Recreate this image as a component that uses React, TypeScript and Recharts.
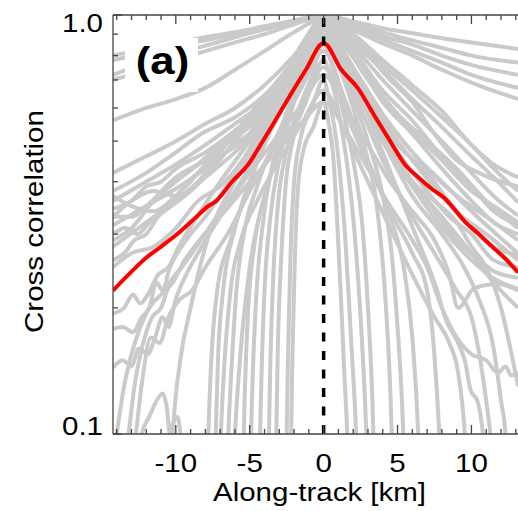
import React from 'react';
import { LineChart, Line, XAxis, YAxis, ReferenceLine, Label } from 'recharts';

type Pt = [number, number];

const FONT = "'Liberation Sans', Arial, Helvetica, sans-serif";

// axis ticks and labels
const xTicks = [-14, -13, -12, -11, -10, -9, -8, -7, -6, -5, -4, -3, -2, -1, 0, 1, 2, 3, 4, 5, 6, 7, 8, 9, 10, 11, 12, 13];
const xTickLabels = [-10, -5, 0, 5, 10];
const yTicks = [0.1, 0.2, 0.3, 0.4, 0.5, 0.6, 0.7, 0.8, 0.9, 1.0];
const yTickLabels: Record<string, string> = { '0.1': '0.1', '1': '1.0' };
const xDomain: [number, number] = [-14.25, 13.15];
const yDomain: [number, number] = [0.1, 1];

// mean cross-correlation (red)
const meanLine: Pt[] = [
  [-14.25, 0.22], [-13.2, 0.24], [-12.2, 0.26], [-11, 0.28], [-9.9, 0.3], [-8.8, 0.325], [-7.7, 0.352],
  [-7.35, 0.358], [-6.2, 0.4], [-5.0, 0.445], [-4.5, 0.475], [-3.4, 0.55], [-2.3, 0.64], [-1.2, 0.74],
  [0, 0.857], [1.2, 0.74], [2.3, 0.67], [3.5, 0.57], [4.5, 0.5], [5.5, 0.44], [6.4, 0.41], [7.3, 0.385],
  [8.2, 0.365], [9.6, 0.32], [10.5, 0.3], [11.4, 0.28], [12.3, 0.262], [13.15, 0.243],
];

// slowly decaying profiles
const flatLines: Pt[][] = [
  [[-14.25, 0.8], [-12, 0.83], [-10, 0.86], [-8, 0.885], [-6, 0.91], [-4, 0.94], [-2, 0.97], [0, 1.0], [2, 0.965], [4, 0.93], [6, 0.905], [8, 0.88], [10, 0.86], [13.15, 0.83]],
  [[-14.25, 0.78], [-12, 0.815], [-10, 0.845], [-8, 0.87], [-6, 0.9], [-4, 0.935], [-2, 0.965], [0, 1.0], [2, 0.95], [4, 0.91], [6, 0.87], [8, 0.835], [10, 0.8], [13.15, 0.77]],
  [[-14.25, 0.72], [-12, 0.77], [-10, 0.81], [-8, 0.845], [-6, 0.885], [-4, 0.925], [-2, 0.96], [0, 0.99], [2, 0.94], [4, 0.89], [6, 0.85], [8, 0.8], [10, 0.76], [13.15, 0.72]],
  [[-14.25, 0.7], [-12, 0.74], [-10, 0.78], [-8, 0.82], [-6, 0.86], [-4, 0.9], [-2, 0.95], [0, 0.99], [2, 0.93], [4, 0.875], [6, 0.82], [8, 0.77], [10, 0.72], [13.15, 0.67]],
  [[-14.25, 0.56], [-12, 0.6], [-10, 0.63], [-8, 0.67], [-6, 0.74], [-4, 0.82], [-2, 0.91], [0, 0.98], [2, 0.92], [4, 0.855], [6, 0.8], [8, 0.74], [10, 0.69], [13.15, 0.63]],
];

// intermediate profiles
const midLines: Pt[][] = [
  [[-14.25, 0.38], [-12, 0.42], [-10, 0.47], [-8.3, 0.52], [-6, 0.57], [-4.3, 0.63], [-2, 0.77], [-1, 0.88], [0, 0.99], [1, 0.95], [2, 0.9], [4, 0.78], [6, 0.68], [8, 0.59], [10, 0.49], [11.5, 0.44], [13.15, 0.41]],
  [[-14.25, 0.36], [-12, 0.4], [-10, 0.44], [-8, 0.49], [-6, 0.55], [-4, 0.62], [-2, 0.75], [-1, 0.86], [0, 0.98], [1, 0.93], [2, 0.88], [4, 0.76], [6, 0.66], [8, 0.57], [10, 0.49], [11.5, 0.43], [13.15, 0.38]],
  [[-14.25, 0.345], [-13, 0.36], [-12, 0.39], [-11, 0.4], [-10, 0.43], [-8, 0.47], [-6, 0.53], [-4, 0.6], [-2, 0.73], [-1, 0.85], [0, 0.98], [1, 0.92], [2, 0.86], [4, 0.74], [6, 0.63], [8, 0.54], [10, 0.46], [11.5, 0.41], [13.15, 0.357]],
  [[-14.25, 0.33], [-13, 0.33], [-12, 0.35], [-10, 0.41], [-8, 0.45], [-6, 0.51], [-4, 0.58], [-2, 0.71], [-1, 0.83], [0, 0.97], [1, 0.9], [2, 0.84], [4, 0.7], [6, 0.59], [8, 0.5], [10, 0.42], [11.5, 0.37], [13.15, 0.332]],
  [[-14.25, 0.315], [-12, 0.35], [-10, 0.385], [-8, 0.43], [-6, 0.49], [-4, 0.56], [-2, 0.69], [-1, 0.82], [0, 0.97], [1, 0.89], [2, 0.82], [4, 0.66], [6, 0.56], [8, 0.46], [10, 0.39], [11.5, 0.34], [13.15, 0.315]],
  [[-14.25, 0.28], [-12, 0.32], [-10, 0.36], [-8, 0.41], [-6, 0.47], [-4, 0.55], [-2, 0.68], [-1, 0.81], [0, 0.96], [1, 0.88], [2, 0.8], [4, 0.62], [6, 0.52], [8, 0.43], [10, 0.36], [11.5, 0.32], [13.15, 0.3]],
];

// crossing, irregular profiles
const crossLines: Pt[][] = [
  [[-14.25, 0.37], [-13, 0.35], [-11.5, 0.34], [-10, 0.37], [-8.5, 0.42], [-7, 0.46], [-5.5, 0.5], [-4, 0.58], [-2.5, 0.7], [-1, 0.85], [0, 0.95], [1.5, 0.8], [3, 0.65], [5, 0.52], [7, 0.43], [9, 0.37], [11, 0.33], [13.15, 0.29]],
  [[-14.25, 0.33], [-13, 0.36], [-11.5, 0.38], [-10, 0.37], [-8.5, 0.4], [-7, 0.47], [-5.5, 0.55], [-4, 0.64], [-2.5, 0.74], [-1, 0.87], [0, 0.97], [1.5, 0.84], [3, 0.7], [5, 0.58], [7, 0.5], [9, 0.43], [11, 0.36], [13.15, 0.31]],
  [[-14.25, 0.29], [-13, 0.31], [-11.5, 0.36], [-10, 0.4], [-8.5, 0.44], [-7, 0.49], [-5.5, 0.53], [-4, 0.6], [-2.5, 0.72], [-1, 0.86], [0, 0.96], [1.5, 0.78], [3, 0.62], [5, 0.49], [7, 0.42], [9, 0.34], [11, 0.3], [13.15, 0.26]],
  [[-14.25, 0.25], [-13, 0.27], [-11.5, 0.28], [-10, 0.31], [-8.5, 0.36], [-7, 0.39], [-5.5, 0.45], [-4, 0.55], [-2.5, 0.66], [-1, 0.8], [0, 0.94], [1.5, 0.76], [3, 0.6], [5, 0.47], [7, 0.38], [8.5, 0.33], [10, 0.3], [11.5, 0.26], [13.15, 0.25]],
  [[-14.25, 0.42], [-12, 0.46], [-10, 0.5], [-8, 0.55], [-6, 0.6], [-4, 0.68], [-2, 0.8], [0, 0.98], [1.5, 0.88], [3, 0.8], [4.5, 0.7], [6, 0.62], [7.5, 0.52], [9, 0.45], [10.5, 0.42], [12, 0.4], [13.15, 0.39]],
  [[-6.2, 0.07], [-6, 0.1], [-5.6, 0.16], [-5, 0.25], [-4, 0.37], [-2.5, 0.55], [-1, 0.77], [0, 0.92], [1.5, 0.75], [3, 0.6], [4.5, 0.48], [6, 0.4], [7.5, 0.36], [9, 0.32], [10, 0.28], [11, 0.25], [12, 0.2], [12.8, 0.15], [13.15, 0.13]],
];

// noisy, low-correlation profiles
const lowLines: Pt[][] = [
  [[-14.25, 0.26], [-13.5, 0.27], [-12.8, 0.29], [-12, 0.3], [-11.2, 0.33], [-10.3, 0.35], [-9, 0.38], [-7.5, 0.43], [-6, 0.5], [-4, 0.6], [-2, 0.75], [-1, 0.86], [0, 0.97], [1, 0.85], [2, 0.73], [4, 0.56], [6, 0.45], [8, 0.37], [10, 0.31], [11.5, 0.28], [13.15, 0.267]],
  [[-14.25, 0.194], [-13.5, 0.2], [-12.9, 0.215], [-12.4, 0.205], [-11.9, 0.215], [-11.2, 0.24], [-10.5, 0.25], [-9.8, 0.28], [-8.8, 0.32], [-7, 0.4], [-5, 0.5], [-3, 0.63], [-1.5, 0.78], [0, 0.96], [1, 0.82], [2, 0.69], [4, 0.5], [6, 0.39], [8, 0.31], [10, 0.26], [11.5, 0.235], [13.15, 0.222]],
  [[-14.25, 0.178], [-13.6, 0.18], [-12.9, 0.175], [-12.3, 0.19], [-11.8, 0.2], [-11.3, 0.23], [-10.9, 0.22], [-10.4, 0.25], [-9.9, 0.27], [-9, 0.3], [-8, 0.33], [-6, 0.42], [-4, 0.54], [-2, 0.72], [0, 0.96], [1.5, 0.75], [3, 0.58], [4.5, 0.47], [6, 0.4], [7.5, 0.34], [9, 0.29], [10.5, 0.26], [11.5, 0.245], [13.15, 0.236]],
  [[-14.25, 0.144], [-13.6, 0.15], [-13, 0.145], [-12.5, 0.16], [-11.9, 0.155], [-11.4, 0.17], [-10.9, 0.19], [-10.5, 0.18], [-10, 0.21], [-9.3, 0.24], [-8.5, 0.27], [-7, 0.33], [-5, 0.42], [-3, 0.52], [-1.5, 0.61], [0, 0.72], [1.5, 0.6], [3, 0.49], [4.5, 0.4], [6, 0.34], [7.5, 0.29], [8.5, 0.24], [9.1, 0.2], [10.2, 0.223], [11.8, 0.228], [13.15, 0.22]],
  [[-14.25, 0.3], [-13.4, 0.31], [-12.6, 0.3], [-11.8, 0.32], [-11, 0.34], [-10, 0.37], [-9, 0.4], [-8, 0.44], [-6, 0.52], [-4, 0.62], [-2, 0.77], [0, 0.97], [2, 0.8], [4, 0.64], [6, 0.53], [8, 0.45], [10, 0.38], [11.5, 0.35], [13.15, 0.32]],
  [[-14.4, 0.08], [-14, 0.1], [-13.5, 0.13], [-13, 0.155], [-12.4, 0.18], [-11.8, 0.2], [-11, 0.215], [-10.2, 0.23], [-9.4, 0.26], [-8.4, 0.29], [-7, 0.33], [-5, 0.4], [-3, 0.48], [-1.5, 0.55], [0, 0.62], [1.5, 0.53], [3, 0.43], [4.5, 0.35], [6, 0.29], [7, 0.25], [8, 0.2], [9, 0.17], [10, 0.155], [11, 0.15], [11.8, 0.14], [12.3, 0.145], [12.7, 0.138], [13.15, 0.14]],
  [[-13.6, 0.08], [-13.2, 0.1], [-12.8, 0.13], [-12.3, 0.16], [-11.6, 0.19], [-11, 0.2], [-10.4, 0.23], [-9.6, 0.25], [-8.6, 0.28], [-7.5, 0.32], [-6, 0.38], [-4, 0.5], [-2, 0.68], [0, 0.96], [2, 0.7], [4, 0.47], [6.2, 0.3], [7.75, 0.216], [8.2, 0.19], [9.1, 0.165], [9.55, 0.15], [9.95, 0.127], [10.4, 0.12], [10.9, 0.09], [11.1, 0.07]],
  [[-13, 0.08], [-12.7, 0.1], [-12.2, 0.14], [-11.7, 0.17], [-11.1, 0.165], [-10.5, 0.19], [-9.7, 0.21], [-8.9, 0.22], [-8, 0.25], [-6.5, 0.3], [-5, 0.38], [-3, 0.52], [-1.5, 0.7], [0, 0.95], [2, 0.66], [4, 0.45], [6, 0.33], [7.5, 0.27], [9, 0.22], [10, 0.19], [10.6, 0.15], [11, 0.12], [11.4, 0.09], [11.6, 0.07]],
];

// rapidly decorrelating profiles
const steepLines: Pt[][] = [
  [[-2.3, 0.07], [-2.2, 0.1], [-2.1, 0.16], [-1.95, 0.26], [-1.75, 0.38], [-1.4, 0.47], [-0.7, 0.54], [0, 0.62], [0.35, 0.55], [0.65, 0.46], [0.9, 0.33], [1.15, 0.22], [1.4, 0.14], [1.6, 0.1], [1.7, 0.08]],
  [[-2.6, 0.07], [-2.5, 0.1], [-2.4, 0.16], [-2.25, 0.26], [-2.0, 0.4], [-1.6, 0.5], [-0.8, 0.6], [0, 0.7], [0.4, 0.62], [0.8, 0.52], [1.1, 0.42], [1.5, 0.28], [1.85, 0.17], [2.2, 0.1], [2.3, 0.08]],
  [[-3.3, 0.07], [-3.2, 0.1], [-3.1, 0.16], [-2.9, 0.25], [-2.6, 0.38], [-2.1, 0.5], [-1.2, 0.62], [0, 0.78], [0.6, 0.68], [1.2, 0.54], [1.7, 0.41], [2.1, 0.3], [2.5, 0.19], [2.8, 0.12], [3.0, 0.08]],
  [[-3.8, 0.07], [-3.7, 0.1], [-3.6, 0.15], [-3.4, 0.24], [-3.1, 0.35], [-2.6, 0.46], [-1.8, 0.58], [-0.9, 0.7], [0, 0.85], [0.8, 0.7], [1.5, 0.55], [2.1, 0.43], [2.6, 0.32], [3.0, 0.2], [3.3, 0.12], [3.45, 0.08]],
  [[-14.25, 0.05], [-12.6, 0.08], [-12.3, 0.1], [-11.8, 0.11], [-11.3, 0.12], [-10.9, 0.125], [-10.6, 0.115], [-10.4, 0.1], [-10.2, 0.106], [-9.9, 0.11], [-9.6, 0.095], [-9.3, 0.08], [-8, 0.05], [-5, 0.05], [-4.4, 0.07], [-4.3, 0.1], [-4.2, 0.14], [-4.0, 0.22], [-3.6, 0.33], [-3, 0.45], [-2, 0.62], [-1, 0.76], [0, 0.9], [1, 0.76], [2, 0.6], [3, 0.45], [3.6, 0.35], [4.1, 0.23], [4.5, 0.13], [4.7, 0.08]],
  [[-5, 0.07], [-4.85, 0.12], [-4.6, 0.2], [-4.1, 0.32], [-3.4, 0.45], [-2.4, 0.6], [-1.2, 0.76], [0, 0.93], [1, 0.79], [2, 0.64], [3, 0.5], [4, 0.37], [4.6, 0.27], [5.0, 0.18], [5.3, 0.12], [5.5, 0.08]],
  [[-5.5, 0.07], [-5.35, 0.12], [-5.1, 0.2], [-4.7, 0.28], [-4, 0.37], [-3, 0.47], [-1.5, 0.6], [0, 0.75], [1.5, 0.58], [3, 0.44], [4.5, 0.33], [5.5, 0.24], [6.0, 0.17], [6.4, 0.1], [6.5, 0.08]],
  [[-6.6, 0.07], [-6.45, 0.1], [-6.2, 0.15], [-5.9, 0.22], [-5.4, 0.3], [-4.5, 0.39], [-3, 0.53], [-1.5, 0.67], [0, 0.82], [1.5, 0.62], [3, 0.45], [4.5, 0.34], [6, 0.27], [7, 0.22], [7.4, 0.17], [7.7, 0.12], [7.9, 0.09]],
  [[-7.1, 0.07], [-6.95, 0.1], [-6.7, 0.15], [-6.3, 0.22], [-5.6, 0.29], [-4.5, 0.36], [-3, 0.45], [-1.5, 0.55], [0, 0.66], [1.5, 0.52], [3, 0.4], [4.5, 0.31], [6, 0.24], [7.5, 0.19], [8.5, 0.165], [9.1, 0.14], [9.55, 0.1], [9.7, 0.08]],
  [[-7.4, 0.07], [-7.3, 0.1], [-7.15, 0.15], [-6.8, 0.22], [-6, 0.31], [-5, 0.4], [-4, 0.49], [-2, 0.68], [0, 0.88], [2, 0.68], [4, 0.5], [6, 0.37], [8, 0.3], [9.5, 0.25], [10.5, 0.21], [11.5, 0.16], [12, 0.12], [12.3, 0.1], [12.4, 0.08]],
  [[-7.9, 0.07], [-7.8, 0.1], [-7.6, 0.15], [-7.2, 0.22], [-6.3, 0.29], [-5.2, 0.38], [-4, 0.5], [-2, 0.72], [0, 0.93], [2, 0.72], [4, 0.52], [6, 0.4], [8, 0.33], [10, 0.27], [11.5, 0.23], [13.15, 0.2]],
  [[-10.4, 0.07], [-10.2, 0.1], [-9.7, 0.15], [-9, 0.2], [-8, 0.28], [-6, 0.4], [-4, 0.52], [-2, 0.72], [0, 0.95], [2, 0.75], [4, 0.58], [6, 0.47], [8, 0.4], [10, 0.34], [13.15, 0.27]],
];

const grayLines: Pt[][] = [...flatLines, ...midLines, ...crossLines, ...lowLines, ...steepLines];
const toRows = (pts: Pt[]) => pts.map(([x, v]) => ({ x, v }));

const AXIS = '#444';
const SX = 1.18;

function XTick(props: any) {
  const { x, y, payload, side } = props;
  const v = payload.value;
  const major = v % 5 === 0;
  const len = major ? 9 : 5;
  const dir = side === 'top' ? 1 : -1;
  const showLabel = side === 'bottom' && xTickLabels.includes(v);
  return (
    <g>
      <line x1={x} x2={x} y1={y} y2={y + dir * len} stroke={AXIS} strokeWidth={1.3} />
      {showLabel && (
        <text transform={`translate(${x},${y + 38}) scale(${SX},1)`} textAnchor="middle" fontSize={25} fontFamily={FONT} fill="#000">
          {String(v)}
        </text>
      )}
    </g>
  );
}

function YTick(props: any) {
  const { x, y, payload } = props;
  const v = payload.value;
  const label = yTickLabels[String(v)];
  const len = label ? 9 : 5;
  const dy = v >= 1 ? 17 : 1;
  return (
    <g>
      <line x1={x} x2={x + len} y1={y} y2={y} stroke={AXIS} strokeWidth={1.3} />
      {label && (
        <text transform={`translate(${x - 10},${y + dy}) scale(${SX},1)`} textAnchor="end" fontSize={25} fontFamily={FONT} fill="#000">
          {label}
        </text>
      )}
    </g>
  );
}

function XTitle(props: any) {
  const vb = props.viewBox || {};
  const cx = vb.x + vb.width / 2 + 4;
  const by = vb.y + 67;
  return (
    <text transform={`translate(${cx},${by}) scale(${SX},1)`} textAnchor="middle" fontSize={25} fontFamily={FONT} fill="#000">
      Along-track [km]
    </text>
  );
}

function YTitle(props: any) {
  const vb = props.viewBox || {};
  const bx = vb.x + 43;
  const cy = vb.y + vb.height / 2 - 3;
  return (
    <text transform={`translate(${bx},${cy}) rotate(-90) scale(${SX},1)`} textAnchor="middle" fontSize={25} fontFamily={FONT} fill="#000">
      Cross correlation
    </text>
  );
}

export default function App() {
  return (
    <div style={{ position: 'absolute', left: 0, top: 0, width: 518, height: 511, overflow: 'hidden', background: '#fff' }}>
      <LineChart width={518} height={511} margin={{ top: 14, right: 0, bottom: 0, left: 0 }}>
        <XAxis
          xAxisId={0}
          type="number"
          dataKey="x"
          domain={xDomain}
          allowDataOverflow
          ticks={xTicks}
          interval={0}
          tickSize={0}
          tickMargin={0}
          tickLine={false}
          tick={<XTick side="bottom" />}
          height={77}
          axisLine={{ stroke: AXIS, strokeWidth: 1.3 }}
        >
          <Label content={<XTitle />} />
        </XAxis>
        <XAxis
          xAxisId="top"
          orientation="top"
          type="number"
          dataKey="x"
          domain={xDomain}
          allowDataOverflow
          ticks={xTicks}
          interval={0}
          tickSize={0}
          tickMargin={0}
          tickLine={false}
          tick={<XTick side="top" />}
          height={1}
          axisLine={{ stroke: AXIS, strokeWidth: 1.3 }}
        />
        <YAxis
          type="number"
          scale="log"
          domain={yDomain}
          allowDataOverflow
          ticks={yTicks}
          interval={0}
          tickSize={0}
          tickMargin={0}
          tickLine={false}
          tick={<YTick />}
          width={113}
          axisLine={{ stroke: AXIS, strokeWidth: 1.3 }}
        >
          <Label content={<YTitle />} />
        </YAxis>
        {grayLines.map((pts, i) => (
          <Line
            key={`g${i}`}
            data={toRows(pts)}
            dataKey="v"
            type="monotone"
            stroke="#cacaca"
            strokeWidth={4}
            dot={false}
            activeDot={false}
            isAnimationActive={false}
          />
        ))}
        <Line
          data={toRows(meanLine)}
          dataKey="v"
          type="monotone"
          stroke="#ff0000"
          strokeWidth={4}
          dot={false}
          activeDot={false}
          isAnimationActive={false}
        />
        <ReferenceLine x={0} stroke="#000" strokeWidth={3.5} strokeDasharray="9 9.5" />
      </LineChart>
      <svg width={518} height={511} style={{ position: 'absolute', left: 0, top: 0, pointerEvents: 'none' }}>
        <rect x={125} y={38} width={73} height={54} fill="#fff" />
        <text transform={`translate(162.5,74) scale(1.15,1)`} textAnchor="middle" fontSize={38} fontWeight="bold" fontFamily={FONT} fill="#000">
          (a)
        </text>
      </svg>
    </div>
  );
}
